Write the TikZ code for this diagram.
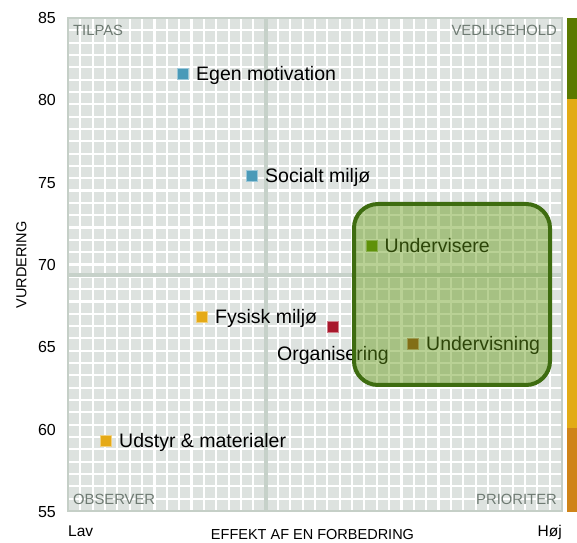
\documentclass[tikz,border=0pt]{standalone}
\usepackage{fontspec}
\setmainfont{Liberation Sans}
\usepackage{xcolor}
\usepackage{tikz}
\usetikzlibrary{positioning}

\definecolor{gridbg}{RGB}{221,226,223}
\definecolor{framec}{RGB}{197,207,199}
\definecolor{axline}{RGB}{198,209,201}
\definecolor{cornertxt}{RGB}{110,122,114}
\definecolor{blu}{RGB}{74,154,184}
\definecolor{grn}{RGB}{92,138,0}
\definecolor{gld}{RGB}{229,170,23}
\definecolor{orgred}{RGB}{168,24,44}
\definecolor{brn}{RGB}{156,74,26}
\definecolor{boxline}{RGB}{62,108,16}
\definecolor{boxfill}{RGB}{100,155,20}
\definecolor{barg}{RGB}{91,122,0}
\definecolor{bary}{RGB}{226,171,22}
\definecolor{baro}{RGB}{207,132,25}

\begin{document}
\begin{tikzpicture}[
    x=1bp, y=1bp,
    item/.style={rectangle, draw=#1!55!white, fill=#1, line width=1bp, minimum size=11bp, inner sep=0pt},
    lbl/.style={font=\fontsize{19.5bp}{22bp}\selectfont, inner sep=0pt, text height=14bp, text depth=0pt},
    ticklbl/.style={font=\fontsize{16bp}{18bp}\selectfont, inner sep=0pt, anchor=east},
    corner/.style={font=\fontsize{14.8bp}{17bp}\selectfont, text=cornertxt, inner sep=0pt},
    axtitle/.style={font=\fontsize{14.5bp}{17bp}\selectfont, inner sep=0pt}
]

\useasboundingbox (0,0) rectangle (577,543);

% plot area with grid
\fill[gridbg] (68,32) rectangle (562,525);
\foreach \k in {1,...,39} {
    \draw[white, line width=2.1bp] (68+\k*12.35,32) -- (68+\k*12.35,525);
    \draw[white, line width=2.1bp] (68,32+\k*12.325) -- (562,32+\k*12.325);
}
\draw[axline, line width=4bp] (266,32) -- (266,525);
\draw[axline, line width=4bp] (68,267.5) -- (562,267.5);
\draw[framec, line width=2.7bp] (68,32) rectangle (562,525);

% colour bar
\fill[barg] (567,444) rectangle (577,525);
\fill[bary] (567,115) rectangle (577,444);
\fill[baro] (567,31) rectangle (577,115);

% y ticks
\foreach \v in {55,60,...,85}
    \node[ticklbl] (t\v) at (56,{31+(\v-55)*16.47}) {\v};

% axis titles
\node[axtitle, rotate=90] (ytitle) at (21.5,278) {VURDERING};
\node[axtitle, anchor=base] (xtitle) at (312.5,3) {EFFEKT AF EN FORBEDRING};
\node[axtitle, font=\fontsize{15.5bp}{17bp}\selectfont, anchor=base west] (lav) at (68,6) {Lav};
\node[axtitle, font=\fontsize{15.5bp}{17bp}\selectfont, anchor=base east] (hoj) at (562,6) {Høj};

% quadrant names
\node[corner, anchor=base west] (tilpas) at (73,507) {TILPAS};
\node[corner, anchor=base east] (vedl) at (557,507) {VEDLIGEHOLD};
\node[corner, anchor=base west] (obs) at (73,38) {OBSERVER};
\node[corner, anchor=base east] (prio) at (557,38.5) {PRIORITER};

% data points
\node[item=blu] (egen) at (183,469) {};
\node[lbl, right=7bp of egen] (egenlbl) {Egen motivation};

\node[item=blu] (social) at (252,367) {};
\node[lbl, right=7bp of social] (sociallbl) {Socialt miljø};

\node[item=grn] (undv) at (371.5,297) {};
\node[lbl, right=7bp of undv] (undvlbl) {Undervisere};

\node[item=gld] (fysisk) at (202,226) {};
\node[lbl, right=7bp of fysisk] (fysisklbl) {Fysisk miljø};

\node[item=orgred] (orga) at (333,216) {};
\node[lbl, below=13bp of orga] (orgalbl) {Organisering};

\node[item=brn] (undn) at (413,199) {};
\node[lbl, right=7bp of undn] (undnlbl) {Undervisning};

\node[item=gld] (udstyr) at (106,102) {};
\node[lbl, right=7bp of udstyr] (udstyrlbl) {Udstyr \& materialer};

% highlight box
\draw[boxline, line width=4bp, fill=boxfill, fill opacity=0.45, rounded corners=24bp] (354,158) rectangle (550,339);

\end{tikzpicture}
\end{document}
